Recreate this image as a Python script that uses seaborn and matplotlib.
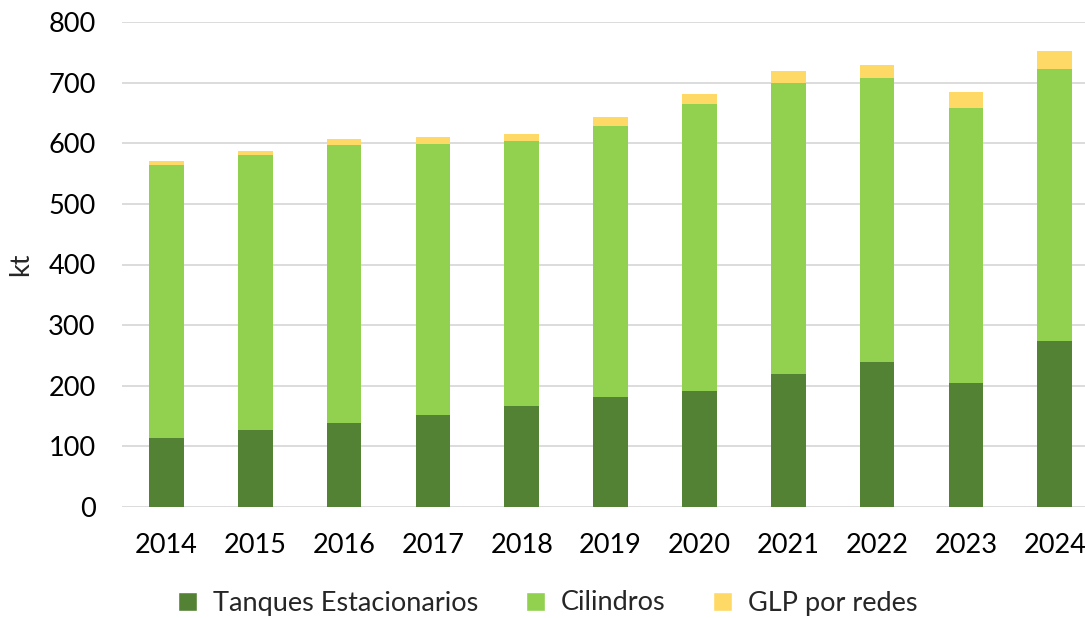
import matplotlib
matplotlib.use("Agg")
import matplotlib.pyplot as plt
import numpy as np
import pandas as pd
import seaborn as sns
from matplotlib.patches import Patch

years = ["2014", "2015", "2016", "2017", "2018", "2019", "2020", "2021", "2022", "2023", "2024"]
tanques = [113, 127, 139, 151, 167, 181, 192, 220, 240, 205, 274]
cilindros = [451, 453, 458, 448, 437, 447, 473, 480, 468, 453, 448]
glp_redes = [6, 7, 9.5, 11, 11, 14.5, 17, 19.5, 20.5, 26.5, 30.5]

series_names = ["Tanques Estacionarios", "Cilindros", "GLP por redes"]
colors = ["#548235", "#92D050", "#FFD966"]

sns.set_theme(style="white")
plt.rcParams["font.family"] = ["Lato", "DejaVu Sans"]

df = pd.DataFrame({"year": years, "t": tanques, "c": cilindros, "g": glp_redes})
df["lvl1"] = df["t"]
df["lvl2"] = df["t"] + df["c"]
df["lvl3"] = df["lvl2"] + df["g"]

fig = plt.figure(figsize=(10.85, 6.18), dpi=100)
ax = fig.add_axes([122 / 1085, 1 - 507 / 618, (1085 - 122) / 1085, 485 / 618])

# draw cumulative totals back to front
for col, c in zip(["lvl3", "lvl2", "lvl1"], colors[::-1]):
    sns.barplot(data=df, x="year", y=col, color=c, width=0.39, ax=ax,
                saturation=1, linewidth=0, zorder=3)

ax.set_ylim(0, 800)
ax.set_xlim(-0.5, 10.34)
ax.set_yticks(np.arange(0, 801, 100))
ax.yaxis.grid(True, color="#d9d9d9", linewidth=1.3, zorder=0)
ax.set_axisbelow(True)
for s in ["top", "right", "left", "bottom"]:
    ax.spines[s].set_visible(False)
ax.tick_params(axis="both", length=0, labelsize=19.5, colors="#000000")
ax.tick_params(axis="x", pad=19)
ax.tick_params(axis="y", pad=19)
ax.set_xlabel("")
ax.set_ylabel("kt", fontsize=19.5, labelpad=11)

handles = [Patch(facecolor=c, label=n) for c, n in zip(colors, series_names)]
fig.legend(handles=handles, loc="center", bbox_to_anchor=(548 / 1085, 1 - 603 / 618),
           ncol=3, frameon=False, fontsize=19.5, handlelength=0.7, handleheight=0.7,
           columnspacing=1.75, handletextpad=0.6)

fig.savefig("out.png", dpi=100)
